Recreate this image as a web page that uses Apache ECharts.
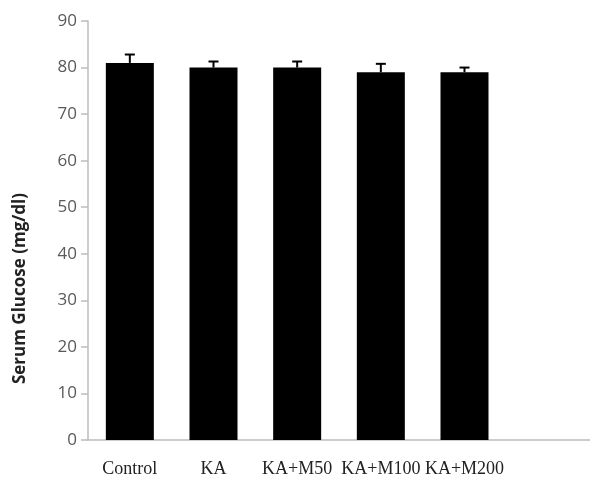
<!DOCTYPE html>
<html>
<head>
<meta charset="utf-8">
<script src="https://cdn.jsdelivr.net/npm/echarts@6/dist/echarts.min.js"></script>
<style>
  html, body { margin: 0; padding: 0; background: #fff; }
  #chart { width: 590px; height: 481px; }
</style>
</head>
<body>
<div id="chart"></div>
<script>
var categories = ['Control', 'KA', 'KA+M50', 'KA+M100', 'KA+M200', ''];
var glucose = [81, 80, 80, 79, 79, null];
var glucoseErr = [1.8, 1.3, 1.3, 1.8, 1.0, null];
var yTicks = [0, 10, 20, 30, 40, 50, 60, 70, 80, 90];

var errData = [];
glucose.forEach(function (v, i) {
    if (v != null) errData.push([i, v, v + glucoseErr[i]]);
});

var chart = echarts.init(document.getElementById('chart'));

var option = {
    backgroundColor: '#fff',
    animation: false,
    grid: { left: 88, right: 0, top: 21, bottom: 41 },
    xAxis: {
        type: 'category',
        data: categories,
        axisLine: { lineStyle: { color: '#bcbcbc', width: 1.5 } },
        axisTick: { show: false },
        axisLabel: {
            color: '#222',
            fontFamily: 'Liberation Serif',
            fontSize: 18,
            margin: 20,
            interval: 0
        }
    },
    yAxis: {
        type: 'value',
        min: yTicks[0],
        max: yTicks[yTicks.length - 1],
        interval: 10,
        splitLine: { show: false },
        axisLine: { show: true, lineStyle: { color: '#bcbcbc', width: 1.5 } },
        axisTick: { show: true, length: 7, lineStyle: { color: '#bcbcbc', width: 1.5 } },
        axisLabel: {
            color: '#595959',
            fontFamily: 'Open Sans',
            fontSize: 17,
            margin: 11
        }
    },
    graphic: [{
        type: 'text',
        left: 12,
        top: 193,
        rotation: Math.PI / 2,
        style: {
            text: 'Serum Glucose (mg/dl)',
            fill: '#222',
            font: 'bold 17px "Open Sans"'
        }
    }],
    series: [
        {
            type: 'bar',
            data: glucose,
            barWidth: 48,
            itemStyle: { color: '#000' }
        },
        {
            type: 'custom',
            data: errData,
            encode: { x: 0, y: [1, 2] },
            renderItem: function (params, api) {
                var base = api.coord([api.value(0), api.value(1)]);
                var top = api.coord([api.value(0), api.value(2)]);
                return {
                    type: 'group',
                    children: [
                        { type: 'line', shape: { x1: base[0], y1: base[1], x2: top[0], y2: top[1] },
                          style: { stroke: '#000', lineWidth: 2 } },
                        { type: 'line', shape: { x1: top[0] - 5, y1: top[1], x2: top[0] + 5, y2: top[1] },
                          style: { stroke: '#000', lineWidth: 2 } }
                    ]
                };
            }
        }
    ]
};

chart.setOption(option);
</script>
</body>
</html>
